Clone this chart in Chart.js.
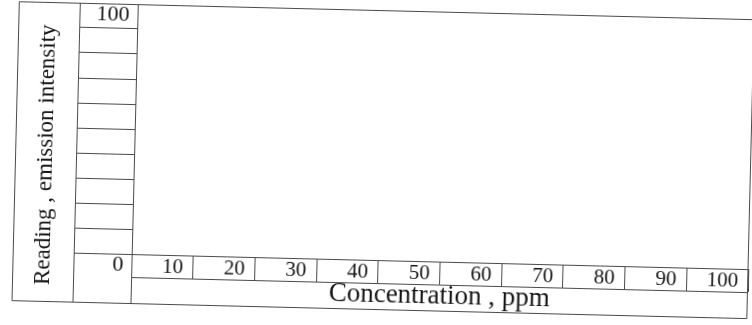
<!DOCTYPE html>
<html>
<head>
<meta charset="utf-8">
<script src="https://cdn.jsdelivr.net/npm/chart.js@4.4.1/dist/chart.umd.min.js"></script>
<style>
  html, body { margin: 0; padding: 0; background: #fff; overflow: hidden; }
  #wrap { width: 752px; height: 325px; }
  /* the scanned sheet sits slightly crooked */
  #calibrationChart { display: block; transform: rotate(1.4deg); }
</style>
</head>
<body>
<div id="wrap"><canvas id="calibrationChart" width="752" height="325"></canvas></div>
<script>
/* axis data */
const concentrationTicks = [0, 10, 20, 30, 40, 50, 60, 70, 80, 90, 100];
const concentrationLabels = ["", "10", "20", "30", "40", "50", "60", "70", "80", "90", "100"];

const readingTicks = [0, 10, 20, 30, 40, 50, 60, 70, 80, 90, 100];
const readingLabels = ["0", "", "", "", "", "", "", "", "", "", "100"];

/* blank calibration sheet: no points yet */
const readings = [];

const xTitle = "Concentration , ppm";
const yTitle = "Reading , emission intensity";

/* styling */
const lineColor = "#4a4a4a";
const inkColor = "#151515";
const serif = "'Liberation Serif', 'DejaVu Serif', serif";

const titleColumnWidth = 61;

/* frame plugin - draws the table borders round the axes */
const tableFrame = {
  id: "tableFrame",
  afterDraw(chart) {
    const { ctx, chartArea } = chart;
    const xScale = chart.scales.x;
    const yScale = chart.scales.y;

    const valueColLeft = chartArea.left - yScale.options.grid.tickLength;
    const outerLeft = valueColLeft - titleColumnWidth;
    const labelRowBottom = chartArea.bottom + xScale.options.grid.tickLength;
    const frameBottom = xScale.bottom - 0.5;

    ctx.save();
    ctx.strokeStyle = lineColor;
    ctx.lineWidth = 1;

    ctx.beginPath();
    // outer box
    ctx.rect(outerLeft + 0.5, chartArea.top + 0.5,
      chartArea.right - outerLeft - 1, frameBottom - chartArea.top - 0.5);
    // value column edges
    ctx.moveTo(valueColLeft + 0.5, chartArea.top);
    ctx.lineTo(valueColLeft + 0.5, frameBottom);
    ctx.moveTo(chartArea.left + 0.5, chartArea.bottom);
    ctx.lineTo(chartArea.left + 0.5, frameBottom);
    // bottom of the label row
    ctx.moveTo(chartArea.left, labelRowBottom + 0.5);
    ctx.lineTo(chartArea.right, labelRowBottom + 0.5);
    ctx.stroke();

    // y title in the left column
    ctx.fillStyle = inkColor;
    ctx.font = "23px " + serif;
    ctx.textAlign = "center";
    ctx.textBaseline = "middle";
    ctx.translate((outerLeft + valueColLeft) / 2, (chartArea.top + frameBottom) / 2 + 3);
    ctx.rotate(-Math.PI / 2);
    ctx.fillText(yTitle, 0, 0);
    ctx.restore();
  }
};

const calibrationChart = new Chart(document.querySelector("#calibrationChart"), {
  type: "scatter",
  data: {
    datasets: [
      {
        label: "Reading",
        data: readings,
        pointRadius: 3,
        backgroundColor: inkColor
      }
    ]
  },
  options: {
    responsive: false,
    animation: false,
    layout: {
      padding: { top: 10, bottom: 15, left: 0, right: 1 }
    },
    plugins: {
      legend: { display: false },
      tooltip: { enabled: false }
    },
    scales: {
      x: {
        type: "linear",
        min: 0,
        max: 100,
        afterBuildTicks: axis => {
          axis.ticks = concentrationTicks.map(value => ({ value }));
        },
        afterFit: axis => {
          axis.height = 50;
          axis.paddingLeft = 0;
          axis.paddingRight = 0;
        },
        grid: {
          drawOnChartArea: false,
          tickLength: 23,
          color: lineColor,
          lineWidth: 1
        },
        border: { display: true, color: lineColor, width: 1 },
        ticks: {
          autoSkip: false,
          maxRotation: 0,
          align: "end",
          labelOffset: -10,
          padding: -23,
          color: inkColor,
          font: { family: serif, size: 21 },
          callback: (value, index) => concentrationLabels[index]
        },
        title: {
          display: true,
          text: xTitle,
          color: inkColor,
          font: { family: serif, size: 27, lineHeight: 1.1 },
          padding: { top: 0, bottom: 0 }
        }
      },
      y: {
        type: "linear",
        min: 0,
        max: 100,
        afterBuildTicks: axis => {
          axis.ticks = readingTicks.map(value => ({ value }));
        },
        afterFit: axis => {
          axis.width = 134;
          axis.paddingTop = 0;
          axis.paddingBottom = 0;
        },
        grid: {
          drawOnChartArea: false,
          tickLength: 58,
          color: lineColor,
          lineWidth: 1
        },
        border: { display: true, color: lineColor, width: 1 },
        ticks: {
          autoSkip: false,
          labelOffset: 11,
          padding: -50,
          color: inkColor,
          font: { family: serif, size: 22 },
          callback: (value, index) => readingLabels[index]
        }
      }
    }
  },
  plugins: [tableFrame]
});
</script>
</body>
</html>
